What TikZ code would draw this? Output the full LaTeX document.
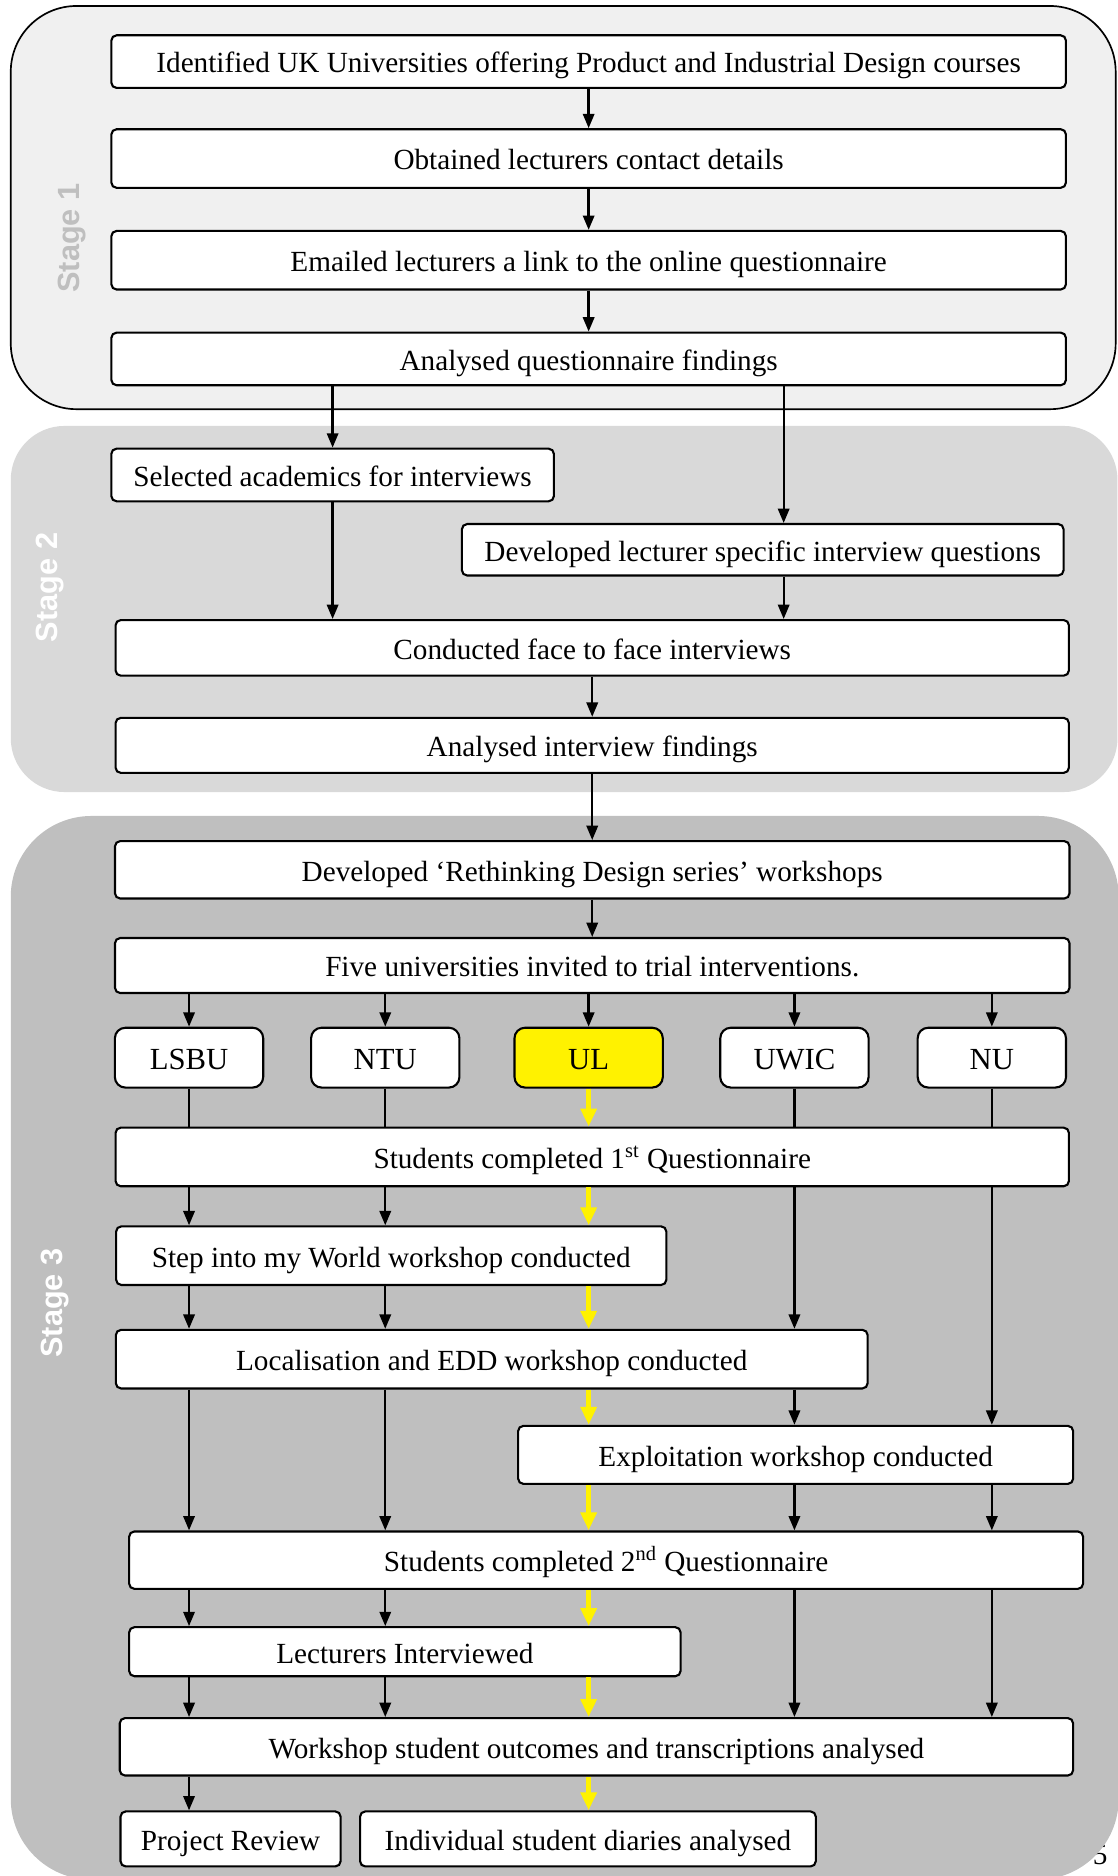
\documentclass[tikz,border=0pt]{standalone}
\usepackage{fontspec}
\setmainfont{Liberation Serif}
\setsansfont{Liberation Sans}
\usetikzlibrary{arrows.meta}

\definecolor{stageone}{HTML}{F0F0F0}
\definecolor{stagetwo}{HTML}{D9D9D9}
\definecolor{stagethree}{HTML}{BFBFBF}

\begin{document}
\begin{tikzpicture}[x=0.02cm, y=-0.02cm,
 stepbox/.style={draw, fill=white, rounded corners=2.5pt, line width=1pt, inner sep=0pt, text height=11pt, text depth=0.2pt, font=\fontsize{13.9}{16}\selectfont},
 unibox/.style={stepbox, rounded corners=5pt, minimum width=2.48cm, minimum height=1cm, font=\fontsize{14.6}{17}\selectfont},
 stagelabel/.style={rotate=90, font=\sffamily\bfseries\fontsize{14.6}{17}\selectfont},
 flow/.style={line width=1.1pt, -{Triangle[length=2.4mm,width=1.9mm]}},
 joint/.style={line width=1.1pt},
 ulflow/.style={draw=yellow, line width=2.5pt, -{Triangle[length=3mm,width=2.6mm]}}]

 \useasboundingbox (0,0) rectangle (934,1568);

 \node[anchor=base east, inner sep=0pt, font=\fontsize{13.9}{16}\selectfont] (page) at (926,1558) {5};

 \fill[stagethree, rounded corners=1.35cm] (9,682) rectangle (935,1571);
 \fill[stagetwo, rounded corners=0.9cm] (9,356) rectangle (934,662);
 \filldraw[fill=stageone, draw=black, line width=0.8pt, rounded corners=1.1cm] (9,5) rectangle (932.5,342);

 \node[stagelabel, text=stagethree] (st1) at (60,199) {Stage 1};
 \node[stagelabel, text=white] (st2) at (42,491) {Stage 2};
 \node[stagelabel, text=white] (st3) at (46,1089) {Stage 3};

 \node[stepbox, minimum width=15.96cm, minimum height=0.88cm] (a1) at (492,51.5) {Identified UK Universities offering Product and Industrial Design courses};
 \node[stepbox, minimum width=15.96cm, minimum height=0.98cm] (a2) at (492,132.5) {Obtained lecturers contact details};
 \node[stepbox, minimum width=15.96cm, minimum height=0.98cm] (a3) at (492,217.5) {Emailed lecturers a link to the online questionnaire};
 \node[stepbox, minimum width=15.96cm, minimum height=0.88cm] (a4) at (492,300) {Analysed questionnaire findings};

 \node[stepbox, minimum width=7.4cm, minimum height=0.88cm] (b1) at (278,397) {Selected academics for interviews};
 \node[stepbox, minimum width=10.06cm, minimum height=0.86cm] (b2) at (637.5,459.5) {Developed lecturer specific interview questions};
 \node[stepbox, minimum width=15.94cm, minimum height=0.93cm] (b3) at (495,541.5) {Conducted face to face interviews};
 \node[stepbox, minimum width=15.94cm, minimum height=0.92cm] (b4) at (495,623) {Analysed interview findings};
 \coordinate (qcol) at (655,459.5);

 \node[stepbox, minimum width=15.96cm, minimum height=0.96cm] (c1) at (495,727) {Developed ‘Rethinking Design series’ workshops};
 \node[stepbox, minimum width=15.96cm, minimum height=0.92cm] (c2) at (495,807) {Five universities invited to trial interventions.};

 \node[unibox] (lsbu) at (158,884) {LSBU};
 \node[unibox] (ntu) at (322,884) {NTU};
 \node[unibox, fill=yellow] (ul) at (492,884) {UL};
 \node[unibox] (uwic) at (664,884) {UWIC};
 \node[unibox] (nu) at (829,884) {NU};

 \node[stepbox, minimum width=15.94cm, minimum height=0.98cm] (q1) at (495,967) {Students completed 1\textsuperscript{st} Questionnaire};
 \node[stepbox, minimum width=9.2cm, minimum height=0.98cm] (world) at (327,1049.5) {Step into my World workshop conducted};
 \node[stepbox, minimum width=12.57cm, minimum height=0.98cm] (local) at (411,1136) {Localisation and EDD workshop conducted};
 \node[stepbox, minimum width=9.28cm, minimum height=0.97cm] (exploit) at (665,1216) {Exploitation workshop conducted};
 \node[stepbox, minimum width=15.95cm, minimum height=0.96cm] (q2) at (506.6,1304) {Students completed 2\textsuperscript{nd} Questionnaire};
 \node[stepbox, minimum width=9.22cm, minimum height=0.82cm] (lect) at (338.4,1380.5) {Lecturers Interviewed};
 \node[stepbox, minimum width=15.94cm, minimum height=0.96cm] (outcomes) at (498.5,1460) {Workshop student outcomes and transcriptions analysed};
 \node[stepbox, minimum width=3.68cm, minimum height=0.92cm] (review) at (192.7,1537) {Project Review};
 \node[stepbox, minimum width=7.62cm, minimum height=0.92cm] (diaries) at (491.4,1537) {Individual student diaries analysed};

 \draw (a1) edge [flow] (a2) (a2) edge [flow] (a3) (a3) edge [flow] (a4);
 \draw (a4.south -| b1) edge [flow] (b1);
 \draw (a4.south -| qcol) edge [flow] (b2.north -| qcol);
 \draw (b1) edge [flow] (b1 |- b3.north);
 \draw (b2.south -| qcol) edge [flow] (b3.north -| qcol);
 \draw (b3) edge [flow] (b4);
 \draw (b4) edge [flow] (c1);

 \draw (c1) edge [flow] (c2);
 \draw (c2.south -| lsbu) edge [flow] (lsbu) (c2.south -| ntu) edge [flow] (ntu) (c2.south -| ul) edge [flow] (ul)
  (c2.south -| uwic) edge [flow] (uwic) (c2.south -| nu) edge [flow] (nu);
 \draw (lsbu) edge [joint] (lsbu |- q1.north) (ntu) edge [joint] (ntu |- q1.north)
  (uwic) edge [joint] (uwic |- q1.north) (nu) edge [joint] (nu |- q1.north);

 \draw (q1.south -| lsbu) edge [flow] (world.north -| lsbu) (q1.south -| ntu) edge [flow] (world.north -| ntu);
 \draw (q1.south -| uwic) edge [flow] (local.north -| uwic);
 \draw (q1.south -| nu) edge [flow] (exploit.north -| nu);
 \draw (world.south -| lsbu) edge [flow] (local.north -| lsbu) (world.south -| ntu) edge [flow] (local.north -| ntu);
 \draw (local.south -| lsbu) edge [flow] (q2.north -| lsbu) (local.south -| ntu) edge [flow] (q2.north -| ntu);
 \draw (local.south -| uwic) edge [flow] (exploit.north -| uwic);
 \draw (exploit.south -| uwic) edge [flow] (q2.north -| uwic) (exploit.south -| nu) edge [flow] (q2.north -| nu);
 \draw (q2.south -| lsbu) edge [flow] (lect.north -| lsbu) (q2.south -| ntu) edge [flow] (lect.north -| ntu);
 \draw (q2.south -| uwic) edge [flow] (outcomes.north -| uwic) (q2.south -| nu) edge [flow] (outcomes.north -| nu);
 \draw (lect.south -| lsbu) edge [flow] (outcomes.north -| lsbu) (lect.south -| ntu) edge [flow] (outcomes.north -| ntu);
 \draw (outcomes.south -| lsbu) edge [flow] (review.north -| lsbu);

 \draw (ul) edge [ulflow] (ul |- q1.north);
 \draw (q1.south -| ul) edge [ulflow] (world.north -| ul);
 \draw (world.south -| ul) edge [ulflow] (local.north -| ul);
 \draw (local.south -| ul) edge [ulflow] (exploit.north -| ul);
 \draw (exploit.south -| ul) edge [ulflow] (q2.north -| ul);
 \draw (q2.south -| ul) edge [ulflow] (lect.north -| ul);
 \draw (lect.south -| ul) edge [ulflow] (outcomes.north -| ul);
 \draw (outcomes.south -| ul) edge [ulflow] (diaries.north -| ul);
\end{tikzpicture}
\end{document}
